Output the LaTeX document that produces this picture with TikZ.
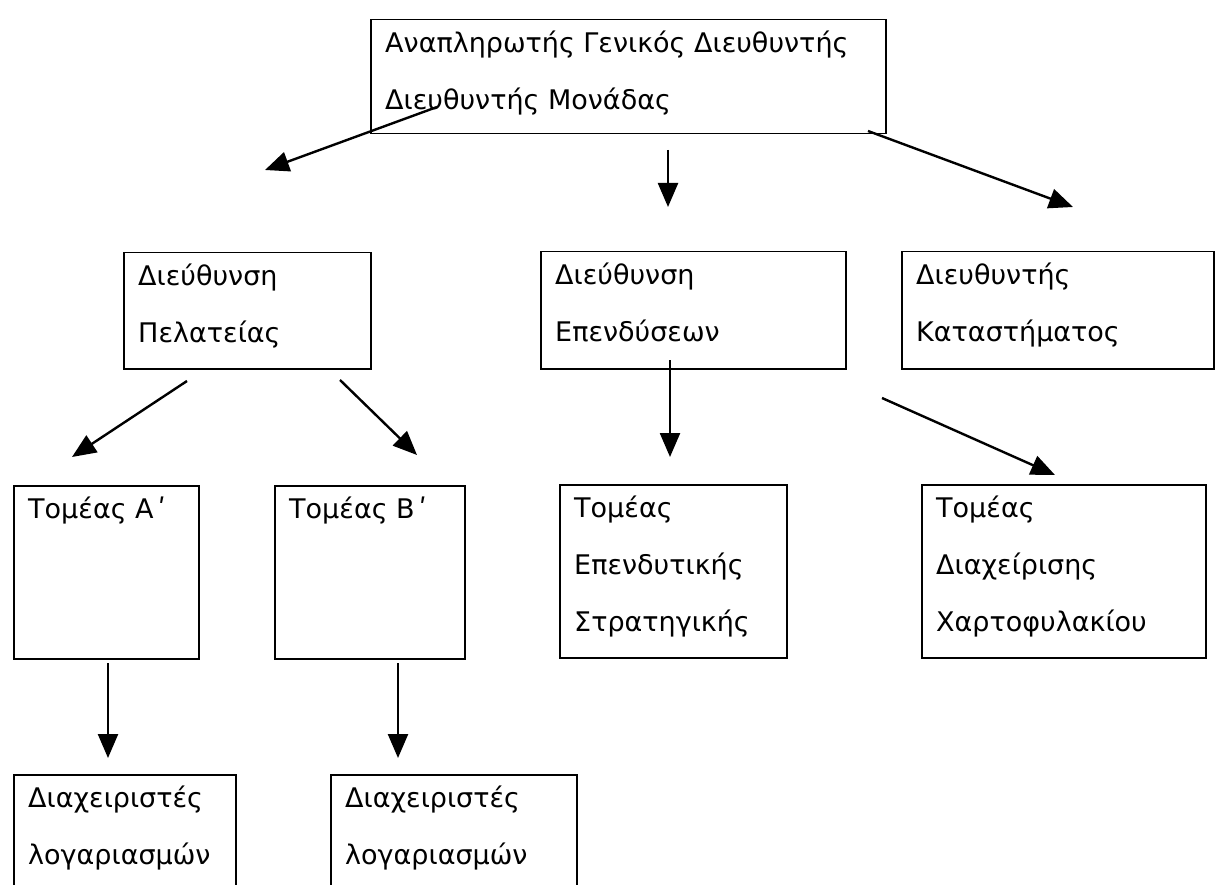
\documentclass[tikz,border=0pt]{standalone}
\usepackage{fontspec}
\setmainfont{DejaVu Sans}
\usetikzlibrary{arrows.meta, positioning, calc}

\begin{document}
\begin{tikzpicture}[
  x=1pt, y=-1pt,
  unit/.style={rectangle, draw=black, line width=1.5pt, anchor=north west, inner sep=0pt},
  lbl/.style={anchor=north west, inner sep=0pt, align=left, font=\fontsize{27}{57}\selectfont},
  link/.style={line width=2.4pt, -{Triangle[length=24pt, width=20pt]}}
]
\clip (0,0) rectangle (1218,885);
\fill[white] (0,0) rectangle (1218,885);

% Top management
\node[unit, minimum width=515, minimum height=114] (dir) at (370,19) {};
\node[lbl] (dirt) at ($(dir.north west)+(15,12)$) {Αναπληρωτής Γενικός Διευθυντής\\Διευθυντής Μονάδας};

% Directorates
\node[unit, minimum width=247, minimum height=116] (pel) at (123,252) {};
\node[lbl] (pelt) at ($(pel.north west)+(15,12)$) {Διεύθυνση\\Πελατείας};
\node[unit, minimum width=305, minimum height=117] (epe) at (540,251) {};
\node[lbl] (epet) at ($(epe.north west)+(15,12)$) {Διεύθυνση\\Επενδύσεων};
\node[unit, minimum width=312, minimum height=117] (kat) at (901,251) {};
\node[lbl] (katt) at ($(kat.north west)+(15,12)$) {Διευθυντής\\Καταστήματος};

% Sectors
\node[unit, minimum width=185, minimum height=173] (toma) at (13,485) {};
\node[lbl] (tomat) at ($(toma.north west)+(15,12)$) {Τομέας Α\,ʹ};
\node[unit, minimum width=190, minimum height=173] (tomb) at (274,485) {};
\node[lbl] (tombt) at ($(tomb.north west)+(15,12)$) {Τομέας Β\,ʹ};
\node[unit, minimum width=227, minimum height=173] (str) at (559,484) {};
\node[lbl] (strt) at ($(str.north west)+(15,12)$) {Τομέας\\Επενδυτικής\\Στρατηγικής};
\node[unit, minimum width=284, minimum height=173] (xar) at (921,484) {};
\node[lbl] (xart) at ($(xar.north west)+(15,12)$) {Τομέας\\Διαχείρισης\\Χαρτοφυλακίου};

% Account managers (cut at the page edge)
\node[unit, minimum width=222, minimum height=150] (mana) at (13,774) {};
\node[lbl] (manat) at ($(mana.north west)+(15,12)$) {Διαχειριστές\\λογαριασμών};
\node[unit, minimum width=246, minimum height=150] (manb) at (330,774) {};
\node[lbl] (manbt) at ($(manb.north west)+(15,12)$) {Διαχειριστές\\λογαριασμών};

% Arrow ends
\coordinate (d1) at (437,107);  \coordinate (p1) at (265,170);
\coordinate (d2) at (668,150);  \coordinate (e2) at (668,207);
\coordinate (d3) at (868,131);  \coordinate (k3) at (1073,207);
\coordinate (p4) at (187,381);  \coordinate (a4) at (72,457);
\coordinate (p5) at (340,380);  \coordinate (b5) at (417,455);
\coordinate (e6) at (670,360);  \coordinate (s6) at (670,457);
\coordinate (e7) at (882,398);  \coordinate (x7) at (1055,475);
\coordinate (a8) at (108,663);  \coordinate (m8) at (108,758);
\coordinate (b9) at (398,663);  \coordinate (m9) at (398,758);

% Arrows
\draw[link] (d1) -- (p1);
\draw[link] (d2) -- (e2);
\draw[link] (d3) -- (k3);
\draw[link] (p4) -- (a4);
\draw[link] (p5) -- (b5);
\draw[link] (e6) -- (s6);
\draw[link] (e7) -- (x7);
\draw[link] (a8) -- (m8);
\draw[link] (b9) -- (m9);

\end{tikzpicture}
\end{document}
